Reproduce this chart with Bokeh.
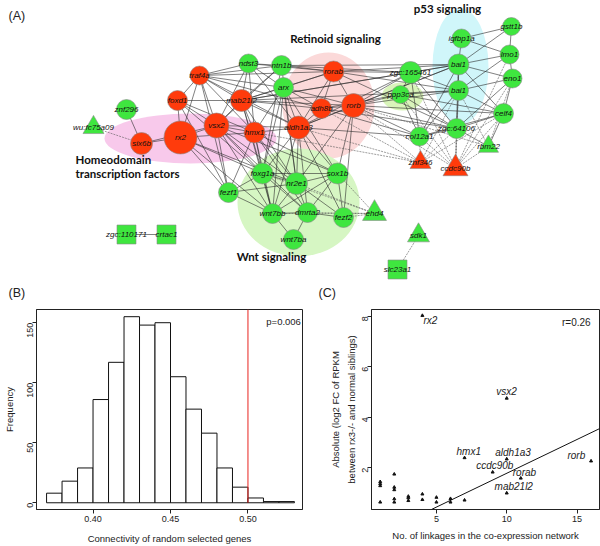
import math
from bokeh.plotting import figure
from bokeh.models import Range1d, FixedTicker, Slope, Title, Label, NumeralTickFormatter, ColumnDataSource
from bokeh.layouts import column, row
from bokeh.embed import file_html
from bokeh.resources import INLINE
from bokeh.core.properties import value

# ---------------- (A) network data ----------------
node_ids = ["traf4a", "ndst3", "ntn1b", "arx", "foxd1", "mab21l2", "znf296", "vsx2", "hmx1",
            "aldh1a3", "rx2", "six6b", "wu:fc75a09", "rorab", "adh8b", "rorb", "zgc:165461",
            "ppp3ca", "bai1_a", "bai1_b", "igfbp1a", "gstt1b", "lmo1", "eno1", "celf4",
            "zgc:64106", "col12a1", "znf346", "ccdc90b", "rbm22", "foxg1a", "nr2e1", "sox1b",
            "fezf1", "wnt7bb", "dmrta2", "fezf2", "wnt7ba", "ehd4", "sdk1", "slc23a1",
            "zgc:110171", "crtac1"]
node_labels = ["traf4a", "ndst3", "ntn1b", "arx", "foxd1", "mab21l2", "znf296", "vsx2", "hmx1",
               "aldh1a3", "rx2", "six6b", "wu:fc75a09", "rorab", "adh8b", "rorb", "zgc:165461",
               "ppp3ca", "bai1", "bai1", "igfbp1a", "gstt1b", "lmo1", "eno1", "celf4",
               "zgc:64106", "col12a1", "znf346", "ccdc90b", "rbm22", "foxg1a", "nr2e1", "sox1b",
               "fezf1", "wnt7bb", "dmrta2", "fezf2", "wnt7ba", "ehd4", "sdk1", "slc23a1",
               "zgc:110171", "crtac1"]
node_x = [199, 248, 281, 283, 177, 241, 126, 216, 254,
          298, 180, 141, 93, 333, 321, 353, 410,
          400, 458, 458, 461, 511, 509, 512, 503,
          456, 419, 420, 455, 488, 262, 296, 337,
          228, 272, 307, 343, 293, 374, 418, 397,
          126, 166]
node_y = [75, 63, 65, 87, 100, 100, 109, 125, 132,
          127, 137, 143, 127, 71, 108, 105, 72,
          94, 64, 90, 38, 26, 54, 78, 113,
          128, 136, 162, 168, 146, 173, 183, 173,
          192, 213, 212, 217, 239, 213, 235, 269,
          234, 234]
node_regulated = [1, 0, 0, 0, 1, 1, 0, 1, 1,
                  1, 1, 1, 0, 1, 1, 1, 0,
                  0, 0, 0, 0, 0, 0, 0, 0,
                  0, 0, 1, 1, 0, 0, 0, 0,
                  0, 0, 0, 0, 0, 0, 0, 0,
                  0, 0]
node_shape = ["circle"] * 12 + ["triangle"] + ["circle"] * 14 + ["triangle", "triangle", "triangle"] + \
             ["circle"] * 8 + ["triangle", "triangle", "square", "square", "square"]
node_size = [19, 19, 20, 20, 20, 22, 20, 25, 21,
             23, 33, 22, 21, 21, 20, 24, 22,
             18, 21, 20, 19, 18, 19, 19, 20,
             20, 19, 21, 25, 20, 21, 22, 21,
             20, 20, 20, 20, 20, 24, 22, 19,
             19, 19]

solid_edges = [
    ("traf4a", "ndst3"), ("traf4a", "ntn1b"), ("traf4a", "arx"), ("traf4a", "mab21l2"), ("traf4a", "vsx2"),
    ("traf4a", "hmx1"), ("traf4a", "aldh1a3"), ("traf4a", "rx2"), ("traf4a", "fezf1"), ("traf4a", "rorab"),
    ("traf4a", "adh8b"), ("traf4a", "foxd1"),
    ("ndst3", "ntn1b"), ("ndst3", "mab21l2"), ("ndst3", "vsx2"), ("ndst3", "rorab"), ("ndst3", "aldh1a3"),
    ("ndst3", "hmx1"), ("ndst3", "arx"),
    ("ntn1b", "rorab"), ("ntn1b", "bai1_a"), ("ntn1b", "zgc:165461"), ("ntn1b", "mab21l2"), ("ntn1b", "vsx2"),
    ("ntn1b", "foxg1a"), ("ntn1b", "nr2e1"),
    ("arx", "mab21l2"), ("arx", "aldh1a3"), ("arx", "nr2e1"), ("arx", "foxg1a"), ("arx", "wnt7bb"),
    ("arx", "sox1b"), ("arx", "hmx1"), ("arx", "rorb"), ("arx", "adh8b"), ("arx", "rorab"),
    ("foxd1", "vsx2"), ("foxd1", "rx2"), ("foxd1", "mab21l2"), ("foxd1", "hmx1"), ("foxd1", "fezf1"),
    ("foxd1", "foxg1a"),
    ("mab21l2", "vsx2"), ("mab21l2", "hmx1"), ("mab21l2", "aldh1a3"), ("mab21l2", "rorab"),
    ("mab21l2", "adh8b"), ("mab21l2", "rorb"), ("mab21l2", "zgc:165461"), ("mab21l2", "bai1_a"),
    ("mab21l2", "nr2e1"), ("mab21l2", "foxg1a"), ("mab21l2", "wnt7bb"), ("mab21l2", "bai1_b"),
    ("vsx2", "rx2"), ("vsx2", "hmx1"), ("vsx2", "aldh1a3"), ("vsx2", "fezf1"), ("vsx2", "foxg1a"),
    ("vsx2", "nr2e1"), ("vsx2", "wnt7bb"), ("vsx2", "sox1b"), ("vsx2", "dmrta2"), ("vsx2", "six6b"),
    ("rx2", "hmx1"), ("rx2", "fezf1"), ("rx2", "foxg1a"), ("rx2", "wnt7bb"), ("rx2", "nr2e1"), ("rx2", "six6b"),
    ("hmx1", "aldh1a3"), ("hmx1", "foxg1a"), ("hmx1", "nr2e1"), ("hmx1", "wnt7bb"), ("hmx1", "sox1b"),
    ("hmx1", "dmrta2"), ("hmx1", "fezf1"),
    ("aldh1a3", "rorab"), ("aldh1a3", "adh8b"), ("aldh1a3", "rorb"), ("aldh1a3", "foxg1a"),
    ("aldh1a3", "nr2e1"), ("aldh1a3", "sox1b"), ("aldh1a3", "wnt7bb"), ("aldh1a3", "dmrta2"),
    ("aldh1a3", "zgc:165461"), ("aldh1a3", "bai1_a"), ("aldh1a3", "col12a1"), ("aldh1a3", "fezf2"),
    ("rorab", "adh8b"), ("rorab", "rorb"), ("rorab", "zgc:165461"), ("rorab", "bai1_a"), ("rorab", "bai1_b"),
    ("rorab", "zgc:64106"),
    ("adh8b", "rorb"), ("adh8b", "zgc:64106"), ("adh8b", "ppp3ca"), ("adh8b", "col12a1"),
    ("rorb", "zgc:165461"), ("rorb", "bai1_a"), ("rorb", "bai1_b"), ("rorb", "ppp3ca"), ("rorb", "zgc:64106"),
    ("rorb", "col12a1"), ("rorb", "nr2e1"), ("rorb", "sox1b"), ("rorb", "celf4"), ("rorb", "fezf2"),
    ("zgc:165461", "bai1_a"), ("zgc:165461", "ppp3ca"), ("zgc:165461", "zgc:64106"),
    ("zgc:165461", "col12a1"), ("zgc:165461", "bai1_b"),
    ("ppp3ca", "bai1_b"), ("ppp3ca", "zgc:64106"), ("ppp3ca", "col12a1"), ("ppp3ca", "celf4"),
    ("bai1_a", "igfbp1a"), ("bai1_a", "lmo1"), ("bai1_a", "eno1"), ("bai1_a", "gstt1b"), ("bai1_a", "bai1_b"),
    ("bai1_a", "celf4"), ("bai1_a", "zgc:64106"), ("bai1_a", "col12a1"),
    ("bai1_b", "eno1"), ("bai1_b", "celf4"), ("bai1_b", "zgc:64106"), ("bai1_b", "col12a1"), ("bai1_b", "lmo1"),
    ("igfbp1a", "gstt1b"), ("igfbp1a", "lmo1"), ("gstt1b", "lmo1"), ("lmo1", "eno1"),
    ("eno1", "celf4"), ("eno1", "zgc:64106"),
    ("celf4", "zgc:64106"), ("celf4", "col12a1"), ("celf4", "rbm22"),
    ("zgc:64106", "col12a1"), ("zgc:64106", "rbm22"),
    ("foxg1a", "nr2e1"), ("foxg1a", "fezf1"), ("foxg1a", "wnt7bb"), ("foxg1a", "sox1b"), ("foxg1a", "dmrta2"),
    ("nr2e1", "sox1b"), ("nr2e1", "wnt7bb"), ("nr2e1", "dmrta2"), ("nr2e1", "fezf1"), ("nr2e1", "fezf2"),
    ("sox1b", "wnt7bb"), ("sox1b", "dmrta2"), ("sox1b", "fezf2"),
    ("fezf1", "wnt7bb"), ("wnt7bb", "dmrta2"), ("wnt7bb", "wnt7ba"),
    ("dmrta2", "fezf2"), ("dmrta2", "wnt7ba"),
    ("zgc:110171", "crtac1"), ("znf296", "six6b"),
]
dashed_edges = [
    ("wu:fc75a09", "six6b"),
    ("ehd4", "sox1b"), ("ehd4", "fezf2"), ("ehd4", "dmrta2"), ("ehd4", "nr2e1"), ("ehd4", "foxg1a"),
    ("ehd4", "wnt7bb"),
    ("znf346", "rorb"), ("znf346", "aldh1a3"), ("znf346", "col12a1"), ("znf346", "zgc:64106"),
    ("znf346", "celf4"), ("znf346", "adh8b"), ("znf346", "hmx1"), ("znf346", "bai1_b"),
    ("ccdc90b", "col12a1"), ("ccdc90b", "zgc:64106"), ("ccdc90b", "bai1_a"), ("ccdc90b", "bai1_b"),
    ("ccdc90b", "celf4"), ("ccdc90b", "eno1"), ("ccdc90b", "zgc:165461"), ("ccdc90b", "ppp3ca"),
    ("ccdc90b", "rorb"), ("ccdc90b", "rbm22"), ("ccdc90b", "lmo1"),
    ("rbm22", "bai1_b"), ("rbm22", "rorb"), ("rbm22", "eno1"),
    ("sdk1", "slc23a1"),
]

module_names = ["Homeodomain", "Retinoid", "Wnt", "p53", "ppp3ca"]
module_x = [190, 328, 298, 460, 402]
module_y = [138, 105, 202, 66, 96]
module_w = [172, 92, 122, 56, 42]
module_h = [50, 106, 108, 116, 28]

module_titles = ["Retinoid signaling", "p53 signaling", "Wnt signaling"]
module_title_x = [335, 447, 271]
module_title_y = [38, 8, 256]

# ---------------- (B) histogram data ----------------
bin_left = [0.37, 0.38, 0.39, 0.40, 0.41, 0.42, 0.43, 0.44, 0.45, 0.46, 0.47, 0.48, 0.49, 0.50, 0.51, 0.52]
bin_right = [0.38, 0.39, 0.40, 0.41, 0.42, 0.43, 0.44, 0.45, 0.46, 0.47, 0.48, 0.49, 0.50, 0.51, 0.52, 0.53]
frequency = [8, 18, 29, 86, 117, 155, 148, 150, 105, 78, 58, 29, 13, 4, 1, 1]
observed_connectivity = 0.50
hist_xticks = [0.40, 0.45, 0.50]
hist_yticks = [0, 50, 100, 150]

# ---------------- (C) scatter data ----------------
gene_names = ["rx2", "vsx2", "hmx1", "aldh1a3", "ccdc90b", "rorab", "mab21l2", "rorb"]
gene_links = [4, 10, 7, 10, 9, 11, 10, 16]
gene_fc = [8.03, 4.75, 2.39, 2.34, 1.82, 1.58, 0.99, 2.26]
gene_label_x = [4.57, 9.98, 7.30, 10.45, 9.15, 11.26, 10.50, 14.95]
gene_label_y = [7.82, 5.01, 2.65, 2.60, 2.07, 1.82, 1.25, 2.47]
other_links = [1, 1, 1, 1, 2, 2, 2, 2, 2, 3, 3, 3, 4, 4, 5, 5, 6, 6, 7]
other_fc = [1.44, 1.36, 1.28, 0.63, 1.74, 1.22, 1.12, 0.76, 0.63, 0.86, 0.80, 0.69, 0.95, 0.73,
            0.82, 0.63, 0.77, 0.63, 0.71]
fit_slope = 0.268
fit_intercept = -0.904
scatter_xticks = [5, 10, 15]
scatter_yticks = [2, 4, 6, 8]

# ---------------- styles ----------------
RED = "#FF3B0C"
GREEN = "#3FE63F"
module_colors = ["#F8C9EB", "#FBD9D9", "#D6F6C3", "#D0F6FA", "#D9F4BA"]
SANS = "Liberation Sans"

# ================= (A) network =================
net = figure(width=600, height=300, x_range=Range1d(0, 600), y_range=Range1d(300, 0),
             output_backend="svg", toolbar_location=None, min_border=0,
             x_axis_location=None, y_axis_location=None)
net.grid.visible = False
net.outline_line_color = None

net.ellipse(x=module_x, y=module_y, width=module_w, height=module_h,
            fill_color=module_colors, line_color=None)

pos = {n: (x, y) for n, x, y in zip(node_ids, node_x, node_y)}
net.multi_line(xs=[[pos[a][0], pos[b][0]] for a, b in solid_edges],
               ys=[[pos[a][1], pos[b][1]] for a, b in solid_edges],
               line_color="#2b2b2b", line_width=0.6)
net.multi_line(xs=[[pos[a][0], pos[b][0]] for a, b in dashed_edges],
               ys=[[pos[a][1], pos[b][1]] for a, b in dashed_edges],
               line_color="#5a5a5a", line_width=0.6, line_dash="2 1")

nsrc = ColumnDataSource(dict(x=node_x, y=node_y, size=node_size, marker=node_shape,
                             color=[RED if r else GREEN for r in node_regulated],
                             label=node_labels))
net.scatter(x="x", y="y", size="size", marker="marker", fill_color="color",
            line_color="#8a8a8a", line_width=0.6, source=nsrc)
net.text(x="x", y="y", text="label", source=nsrc, text_align="center", text_baseline="middle",
         text_font=value(SANS), text_font_style="italic", text_font_size="8px", text_color="#111111")

net.text(x=module_title_x, y=module_title_y, text=module_titles, text_align="center",
         text_baseline="middle", text_font=value("Lato"), text_font_style="bold",
         text_font_size="11.5px", text_color="#111111")
net.text(x=[75, 75], y=[159, 173], text=["Homeodomain", "transcription factors"],
         text_align="left", text_baseline="middle", text_font=value("Lato"),
         text_font_style="bold", text_font_size="11.5px", text_color="#111111")
net.text(x=[8, 8, 318], y=[15, 292, 292], text=["(A)", "(B)", "(C)"], text_align="left",
         text_baseline="middle", text_font=value(SANS), text_font_size="12.5px", text_color="#222222")


def style_axes(p):
    p.grid.visible = False
    p.outline_line_color = "#222222"
    p.outline_line_width = 1
    for ax in p.axis:
        ax.axis_line_color = "#222222"
        ax.major_tick_line_color = "#222222"
        ax.major_tick_out = 4
        ax.major_tick_in = 0
        ax.minor_tick_out = 0
        ax.minor_tick_in = 0
        ax.major_label_text_font = SANS
        ax.major_label_text_font_size = "9px"
        ax.major_label_text_color = "#222222"
        ax.major_label_standoff = 2
        ax.axis_label_text_font = SANS
        ax.axis_label_text_font_size = "9.5px"
        ax.axis_label_text_font_style = "normal"
        ax.axis_label_text_color = "#222222"
        ax.axis_label_standoff = 4
    p.yaxis.major_label_orientation = math.pi / 2


# ================= (B) histogram =================
h = figure(width=303, height=246, x_range=Range1d(0.3635, 0.5352), y_range=Range1d(-5.6, 161),
           output_backend="svg", toolbar_location=None,
           min_border_left=35, min_border_right=1, min_border_top=9, min_border_bottom=37)
h.quad(left=bin_left, right=bin_right, bottom=0, top=frequency,
       fill_color="white", line_color="#111111", line_width=1)
h.segment(x0=[observed_connectivity], y0=[0], x1=[observed_connectivity], y1=[h.y_range.end],
          line_color="#E8231F", line_width=1)
h.add_layout(Label(x=0.523, y=151, text="p=0.006", text_align="center", text_baseline="middle",
                   text_font=SANS, text_font_size="9.5px", text_color="#222222"))
h.xaxis.ticker = FixedTicker(ticks=hist_xticks)
h.xaxis.formatter = NumeralTickFormatter(format="0.00")
h.yaxis.ticker = FixedTicker(ticks=hist_yticks)
h.xaxis.axis_label = "Connectivity of random selected genes"
h.yaxis.axis_label = "Frequency"
style_axes(h)
h.xaxis.axis_label_standoff = 8
h.yaxis.axis_label_standoff = 7

# ================= (C) scatter =================
s = figure(width=297, height=246, x_range=Range1d(0.38, 16.6), y_range=Range1d(0.34, 8.27),
           output_backend="svg", toolbar_location=None,
           min_border_left=68, min_border_right=1, min_border_top=7, min_border_bottom=36)
s.scatter(x=other_links, y=other_fc, marker="triangle", size=3, color="#111111")
s.scatter(x=gene_links, y=gene_fc, marker="triangle", size=3, color="#111111")
s.text(x=gene_label_x, y=gene_label_y, text=gene_names, text_align="center", text_baseline="middle",
       text_font=value(SANS), text_font_style="italic", text_font_size="10px", text_color="#222222")
s.add_layout(Slope(gradient=fit_slope, y_intercept=fit_intercept, line_color="#111111", line_width=1))
s.add_layout(Label(x=14.95, y=7.75, text="r=0.26", text_align="center", text_baseline="middle",
                   text_font=SANS, text_font_size="10px", text_color="#222222"))
s.xaxis.ticker = FixedTicker(ticks=scatter_xticks)
s.yaxis.ticker = FixedTicker(ticks=scatter_yticks)
s.xaxis.axis_label = "No. of linkages in the co-expression network"
s.yaxis.axis_label = "between rx3-/- and normal siblings)"
style_axes(s)
s.xaxis.axis_label_standoff = 5
s.yaxis.axis_label_standoff = 0
s.add_layout(Title(text="Absolute (log2 FC of RPKM", align="center", text_font=SANS,
                   text_font_size="9.5px", text_font_style="normal", text_color="#222222",
                   standoff=4), "left")

layout = column(net, row(h, s, spacing=0), spacing=0)
open("out.html", "w").write(file_html(layout, INLINE))
